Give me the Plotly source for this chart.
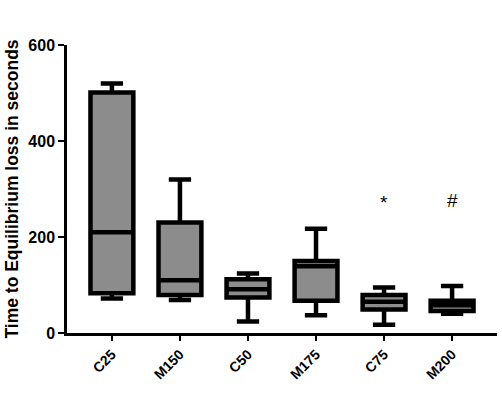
import plotly.graph_objects as go

categories = ["C25", "M150", "C50", "M175", "C75", "M200"]
lower_whisker = [72, 69, 24, 37, 17, 40]
q1_values = [83, 79, 74, 67, 49, 46]
medians = [210, 110, 91, 139, 65, 58]
q3_values = [501, 230, 112, 150, 79, 67]
upper_whisker = [520, 320, 124, 217, 95, 98]
sig_labels = ["*", "#"]
sig_categories = ["C75", "M200"]
sig_values = [271, 277]
y_ticks = [0, 200, 400, 600]

fig = go.Figure()
fig.add_trace(go.Box(
    x=categories,
    q1=q1_values, median=medians, q3=q3_values,
    lowerfence=lower_whisker, upperfence=upper_whisker,
    fillcolor="#8c8c8c",
    line=dict(color="black", width=4.5),
    width=0.63,
    whiskerwidth=0.52,
    boxpoints=False,
    hoverinfo="skip",
    showlegend=False,
))

for lab, cat, val in zip(sig_labels, sig_categories, sig_values):
    fig.add_annotation(x=cat, y=val, text=lab, showarrow=False,
                       font=dict(family="Liberation Sans, Arial", size=19, color="black"))

fig.update_layout(
    width=502, height=395,
    margin=dict(l=67, r=5, t=45, b=62),
    plot_bgcolor="white", paper_bgcolor="white",
    font=dict(family="Liberation Sans, Arial", color="black"),
    xaxis=dict(
        type="category", range=[-0.66, 5.66],
        showline=True, linecolor="black", linewidth=2.5,
        ticks="outside", ticklen=5, tickwidth=2, tickcolor="black",
        tickangle=-45, showgrid=False, zeroline=False,
        tickfont=dict(family="Liberation Sans, Arial", size=14, color="black", weight="bold"),
    ),
    yaxis=dict(
        range=[0, 600], tickvals=y_ticks,
        showline=True, linecolor="black", linewidth=2.5,
        ticks="outside", ticklen=6, tickwidth=2, tickcolor="black",
        showgrid=False, zeroline=False,
        tickfont=dict(family="Liberation Sans, Arial", size=16, color="black", weight="bold"),
        title=dict(text="Time to Equilibrium loss in seconds", standoff=6,
                   font=dict(family="Liberation Sans, Arial", size=17.5, color="black", weight="bold")),
    ),
)

fig.write_html("out.html")
